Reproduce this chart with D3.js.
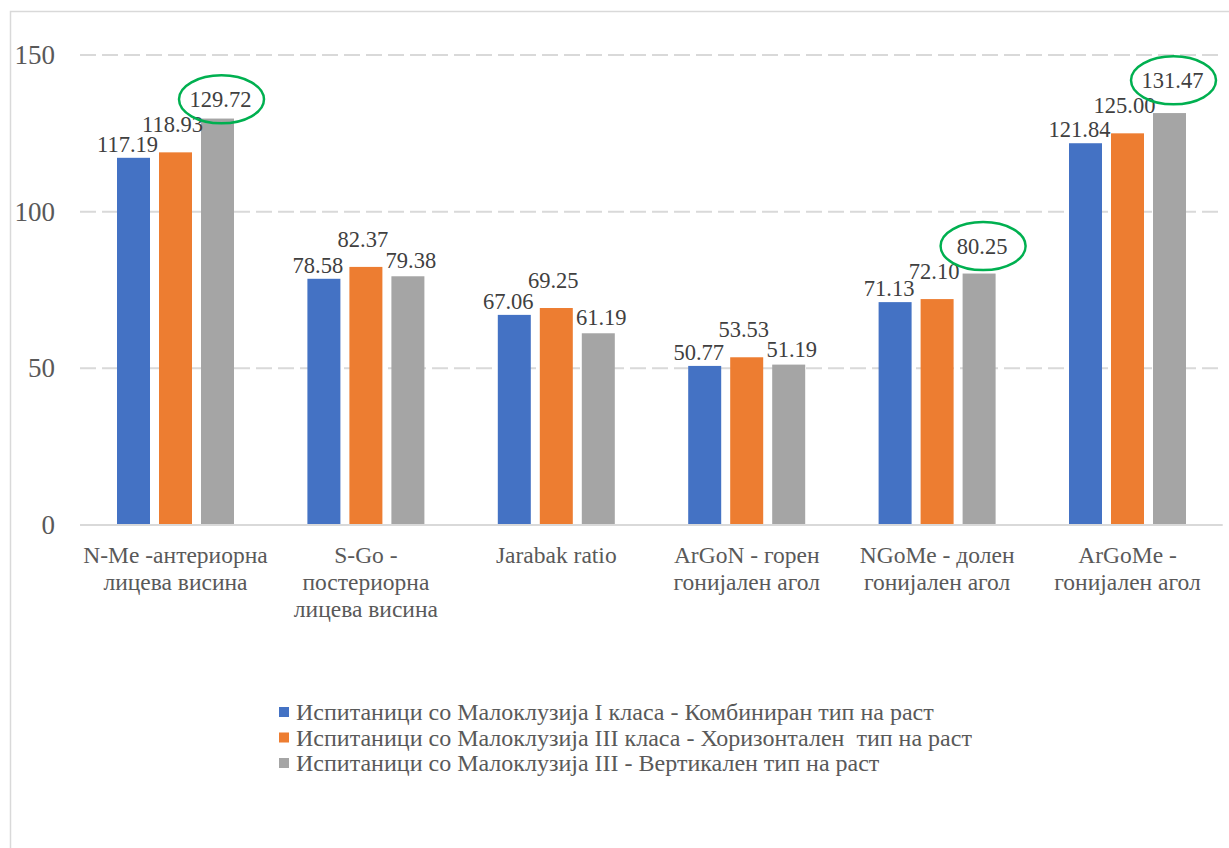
<!DOCTYPE html>
<html>
<head>
<meta charset="utf-8">
<script src="https://cdn.jsdelivr.net/npm/d3@7"></script>
<style>
  html, body { margin: 0; padding: 0; background: #fff; }
  svg { display: block; }
</style>
</head>
<body>
<div class="visualization"></div>
<script>
  'use strict';

  // Categories (each one is already split into the lines Excel wrapped it into)
  var categories = [
    ['N-Me -антериорна', 'лицева висина'],
    ['S-Go -', 'постериорна', 'лицева висина'],
    ['Jarabak ratio'],
    ['ArGoN - горен', 'гонијален агол'],
    ['NGoMe - долен', 'гонијален агол'],
    ['ArGoMe -', 'гонијален агол']
  ];

  var seriesNames = [
    'Испитаници со Малоклузија I класа - Комбиниран тип на раст',
    'Испитаници со Малоклузија III класа - Хоризонтален  тип на раст',
    'Испитаници со Малоклузија III - Вертикален тип на раст'
  ];

  var combinedValues   = [117.19, 78.58, 67.06, 50.77, 71.13, 121.84];
  var horizontalValues = [118.93, 82.37, 69.25, 53.53, 72.10, 125.00];
  var verticalValues   = [129.72, 79.38, 61.19, 51.19, 80.25, 131.47];

  var yTicks = [0, 50, 100, 150];

  // Which labels of the vertical series got a green circle drawn round them
  var circledCategories = [0, 4, 5];

  var colors = ['#4472c4', '#ed7d31', '#a5a5a5'];

  var width = 1229,
      height = 848,
      serif = "'Liberation Serif', 'Times New Roman', Tinos, 'DejaVu Serif', serif";

  var svg = d3.select('.visualization')
    .append('svg')
    .attr('width', width)
    .attr('height', height)
    .attr('font-family', serif)
    .style('font-family', serif);

  // chart frame (right and bottom edges are cut off in the picture)
  svg.append('rect')
    .attr('x', 10.5)
    .attr('y', 11.5)
    .attr('width', 1260)
    .attr('height', 880)
    .attr('fill', 'none')
    .attr('stroke', '#d9d9d9')
    .attr('stroke-width', 1.5);

  var x0 = d3.scaleBand()
    .domain(d3.range(categories.length))
    .range([80.3, 1222.7]);

  var x1 = d3.scaleBand()
    .domain(d3.range(seriesNames.length))
    .range([36.7, x0.bandwidth() - 36.7])
    .paddingInner(9 / 42);

  var y = d3.scaleLinear()
    .domain([0, 150])
    .range([525, 55]);

  // gridlines
  svg.append('g')
    .selectAll('line')
    .data(yTicks.filter(function(d) { return d > 0; }))
    .enter().append('line')
    .attr('x1', 80)
    .attr('x2', 1218)
    .attr('y1', function(d) { return y(d); })
    .attr('y2', function(d) { return y(d); })
    .attr('stroke', '#d9d9d9')
    .attr('stroke-width', 2)
    .attr('stroke-dasharray', '16,6');

  // y axis labels
  svg.append('g')
    .selectAll('text')
    .data(yTicks)
    .enter().append('text')
    .attr('x', 55)
    .attr('y', function(d) { return y(d); })
    .attr('dy', '0.33em')
    .attr('text-anchor', 'end')
    .attr('font-size', 27)
    .attr('fill', '#595959')
    .text(function(d) { return d; });

  // build rows: one per category, with all three values
  var rows = categories.map(function(c, i) {
    return {
      index: i,
      lines: c,
      values: [combinedValues[i], horizontalValues[i], verticalValues[i]]
    };
  });

  var groups = svg.append('g')
    .selectAll('g')
    .data(rows)
    .enter().append('g')
    .attr('transform', function(d) { return 'translate(' + x0(d.index) + ',0)'; });

  groups.selectAll('rect')
    .data(function(d) { return d.values; })
    .enter().append('rect')
    .attr('x', function(d, i) { return x1(i); })
    .attr('width', x1.bandwidth())
    .attr('y', function(d) { return y(d); })
    .attr('height', function(d) { return y(0) - y(d); })
    .attr('fill', function(d, i) { return colors[i]; });

  // x axis line
  svg.append('line')
    .attr('x1', 80)
    .attr('x2', 1222.7)
    .attr('y1', y(0))
    .attr('y2', y(0))
    .attr('stroke', '#d9d9d9')
    .attr('stroke-width', 2);

  // data labels - middle one sits higher, the third one dodges the middle if needed
  var labelShift = [-6, -3, 3];
  groups.each(function(row) {
    var g = d3.select(this);
    var baselines = [];
    row.values.forEach(function(v, i) {
      var top = y(v), b;
      if (i === 0) {
        b = top - 6;
      } else if (i === 1) {
        b = top - 20;
      } else {
        b = top - 8;
        if (b > baselines[1] - 25 && b < baselines[1] + 18) b = baselines[1] - 25;
      }
      baselines.push(b);

      var cx = x1(i) + x1.bandwidth() / 2 + labelShift[i];
      g.append('text')
        .attr('x', cx)
        .attr('y', b)
        .attr('text-anchor', 'middle')
        .attr('font-size', 22.5)
        .attr('fill', '#404040')
        .text(v.toFixed(2));

      if (i === 2 && circledCategories.indexOf(row.index) > -1) {
        g.append('ellipse')
          .attr('cx', cx + 1)
          .attr('cy', b - 8)
          .attr('rx', 42.5)
          .attr('ry', 24)
          .attr('fill', 'none')
          .attr('stroke', '#00b050')
          .attr('stroke-width', 2.5);
      }
    });
  });

  // category labels
  groups.append('text')
    .attr('text-anchor', 'middle')
    .attr('font-size', 23.5)
    .attr('fill', '#595959')
    .selectAll('tspan')
    .data(function(d) { return d.lines; })
    .enter().append('tspan')
    .attr('x', x0.bandwidth() / 2)
    .attr('y', function(d, i) { return 563 + i * 27; })
    .text(function(d) { return d; });

  // legend
  var legend = svg.append('g')
    .attr('transform', 'translate(279,720)')
    .selectAll('g')
    .data(seriesNames)
    .enter().append('g')
    .attr('transform', function(d, i) { return 'translate(0,' + (i * 25.5) + ')'; });

  legend.append('rect')
    .attr('x', 0)
    .attr('y', -13)
    .attr('width', 10)
    .attr('height', 10)
    .attr('fill', function(d, i) { return colors[i]; });

  legend.append('text')
    .attr('x', 17)
    .attr('y', 0)
    .attr('font-size', 24)
    .attr('fill', '#595959')
    .style('white-space', 'pre')
    .text(function(d) { return d; });
</script>
</body>
</html>
